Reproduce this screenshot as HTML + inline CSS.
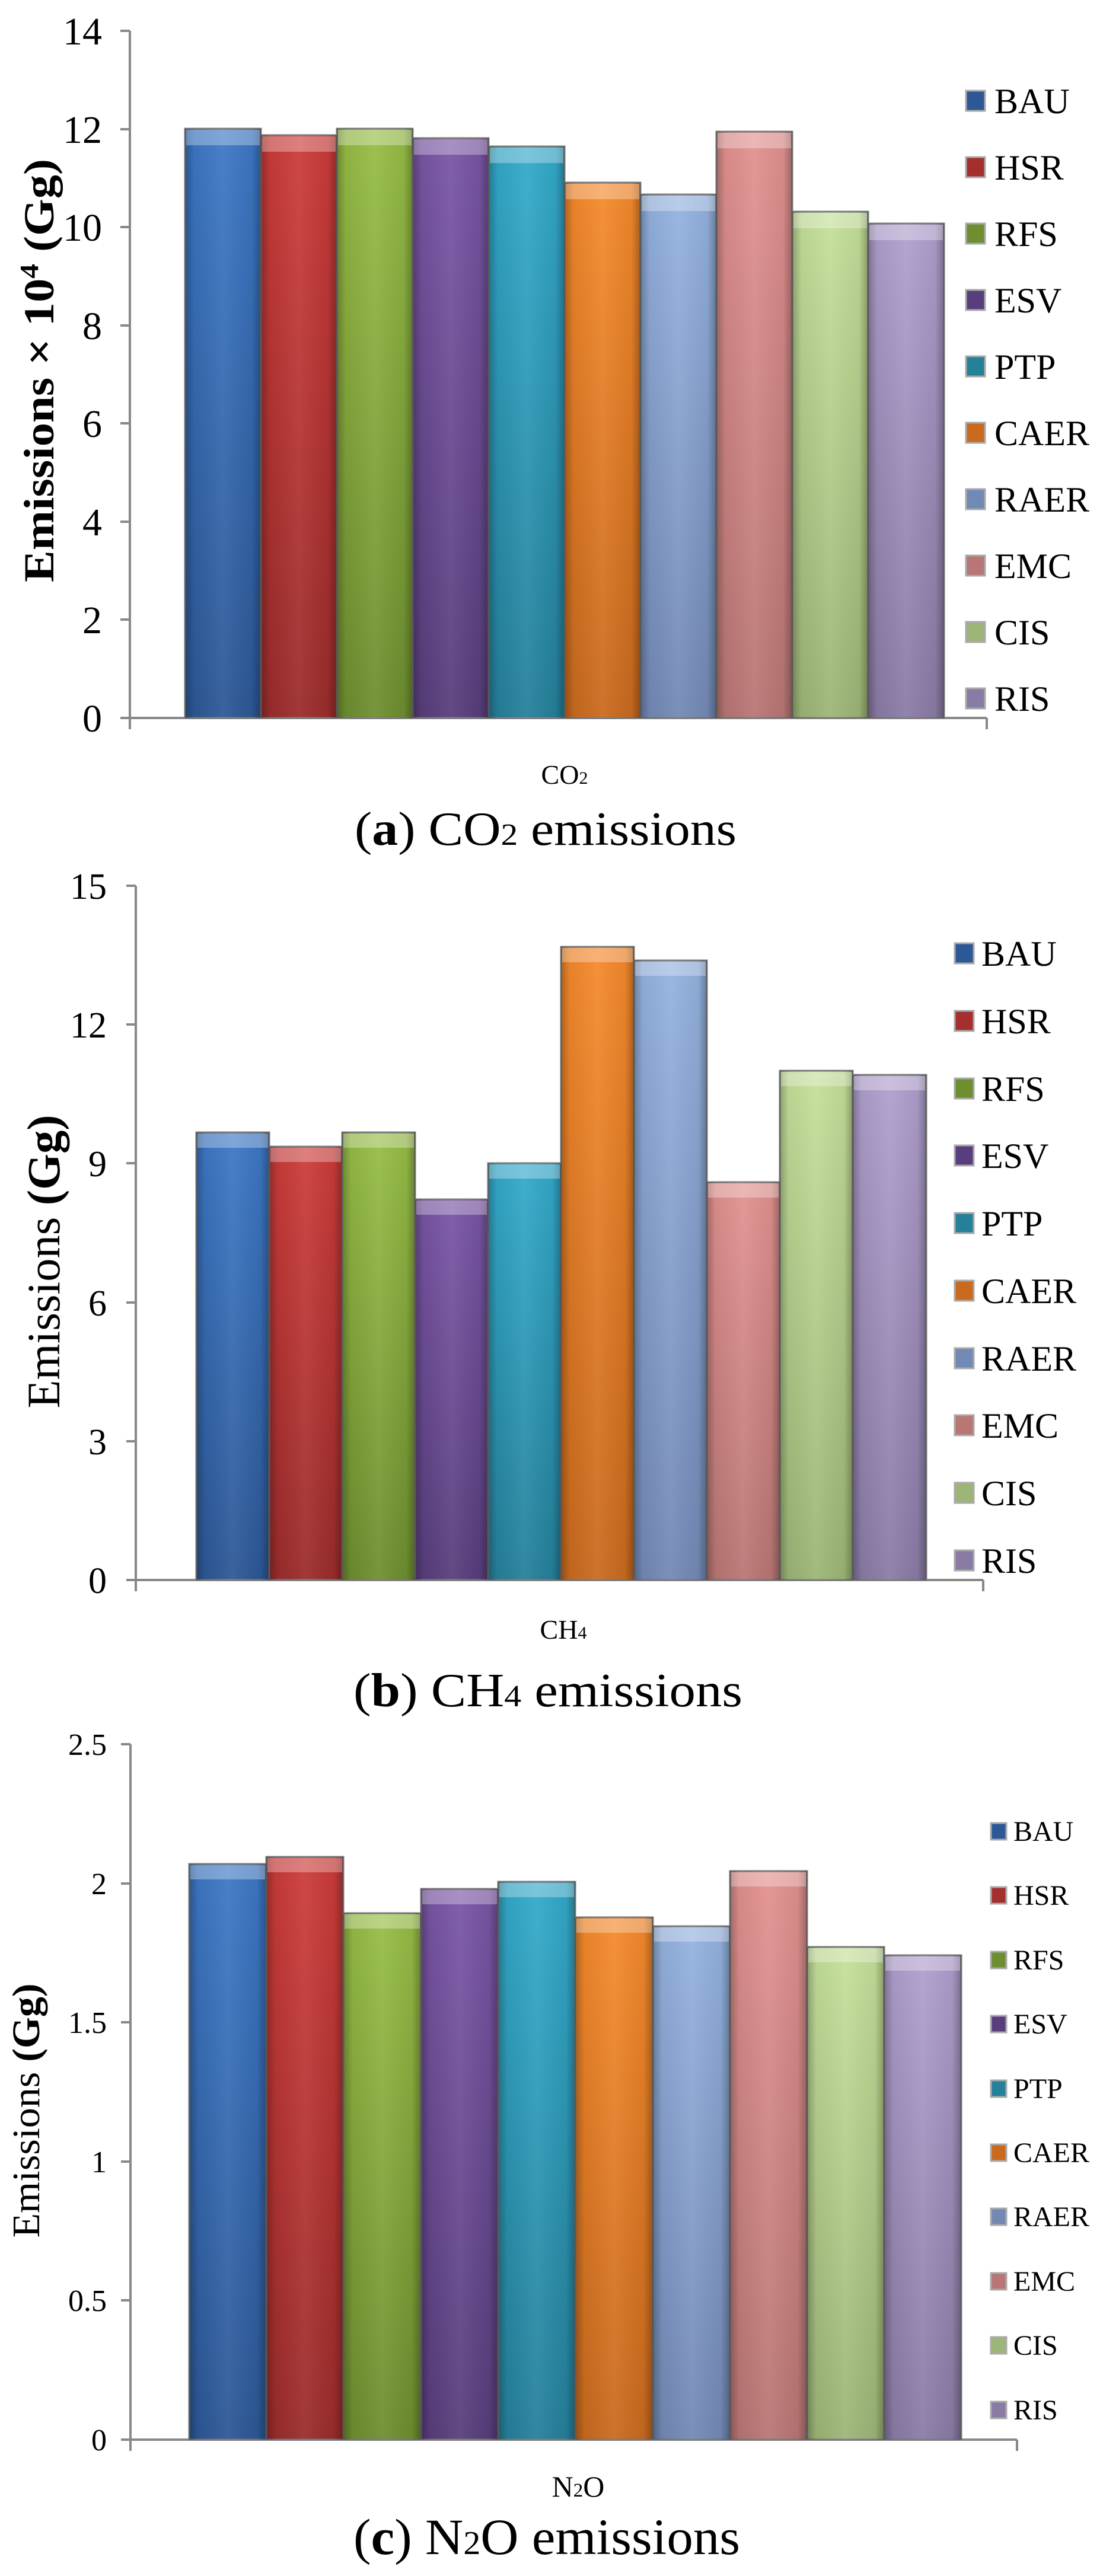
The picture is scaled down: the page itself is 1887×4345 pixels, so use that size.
<!DOCTYPE html>
<html><head><meta charset="utf-8"><style>
html,body{margin:0;padding:0;background:#fff}
svg{display:block}
text{font-family:"Liberation Serif",serif;fill:#000}
</style></head><body>
<svg width="1887" height="4345" viewBox="0 0 1887 4345" xmlns="http://www.w3.org/2000/svg">
<defs>
<linearGradient id="sh" x1="0" y1="0" x2="1" y2="0">
<stop offset="0" stop-color="#000" stop-opacity="0.28"/><stop offset="0.12" stop-color="#000" stop-opacity="0.05"/>
<stop offset="0.5" stop-color="#fff" stop-opacity="0.06"/><stop offset="0.88" stop-color="#000" stop-opacity="0.05"/>
<stop offset="1" stop-color="#000" stop-opacity="0.3"/></linearGradient>
<linearGradient id="g0" x1="0" y1="0" x2="0" y2="1"><stop offset="0" stop-color="#3d78c6"/><stop offset="1" stop-color="#2d5896"/></linearGradient>
<linearGradient id="g1" x1="0" y1="0" x2="0" y2="1"><stop offset="0" stop-color="#cc3c3a"/><stop offset="1" stop-color="#9b2c2c"/></linearGradient>
<linearGradient id="g2" x1="0" y1="0" x2="0" y2="1"><stop offset="0" stop-color="#97bd46"/><stop offset="1" stop-color="#6e8e30"/></linearGradient>
<linearGradient id="g3" x1="0" y1="0" x2="0" y2="1"><stop offset="0" stop-color="#7a56a6"/><stop offset="1" stop-color="#583e7c"/></linearGradient>
<linearGradient id="g4" x1="0" y1="0" x2="0" y2="1"><stop offset="0" stop-color="#33aacb"/><stop offset="1" stop-color="#25809a"/></linearGradient>
<linearGradient id="g5" x1="0" y1="0" x2="0" y2="1"><stop offset="0" stop-color="#f58a2c"/><stop offset="1" stop-color="#c96a1e"/></linearGradient>
<linearGradient id="g6" x1="0" y1="0" x2="0" y2="1"><stop offset="0" stop-color="#94b3e0"/><stop offset="1" stop-color="#7389b5"/></linearGradient>
<linearGradient id="g7" x1="0" y1="0" x2="0" y2="1"><stop offset="0" stop-color="#e29290"/><stop offset="1" stop-color="#b87674"/></linearGradient>
<linearGradient id="g8" x1="0" y1="0" x2="0" y2="1"><stop offset="0" stop-color="#c5e09a"/><stop offset="1" stop-color="#9db577"/></linearGradient>
<linearGradient id="g9" x1="0" y1="0" x2="0" y2="1"><stop offset="0" stop-color="#b09fce"/><stop offset="1" stop-color="#8a7ba5"/></linearGradient>
</defs>

<!-- ===== Panel A ===== -->
<g stroke="#888" stroke-width="4" fill="none">
<line x1="219" y1="52" x2="219" y2="1230"/>
<line x1="203" y1="1211" x2="1664" y2="1211"/>
<line x1="1664" y1="1211" x2="1664" y2="1230"/>
<line x1="203" y1="52" x2="219" y2="52"/><line x1="203" y1="218" x2="219" y2="218"/>
<line x1="203" y1="383" x2="219" y2="383"/><line x1="203" y1="549" x2="219" y2="549"/>
<line x1="203" y1="714" x2="219" y2="714"/><line x1="203" y1="880" x2="219" y2="880"/>
<line x1="203" y1="1045" x2="219" y2="1045"/>
</g>
<g font-size="66" text-anchor="end">
<text x="172" y="75">14</text><text x="172" y="241">12</text><text x="172" y="406">10</text>
<text x="172" y="572">8</text><text x="172" y="737">6</text><text x="172" y="903">4</text>
<text x="172" y="1068">2</text><text x="172" y="1234">0</text>
</g>
<text transform="translate(90,625) rotate(-90)" font-size="72" font-weight="bold" text-anchor="middle" textLength="714" lengthAdjust="spacingAndGlyphs">Emissions × 10<tspan font-size="44" dy="-26">4</tspan><tspan dy="26"> (Gg)</tspan></text>
<g stroke="#7a7a7a" stroke-width="3">
<rect x="312" y="217" width="128" height="994" fill="url(#g0)"/>
<rect x="440" y="228" width="128" height="983" fill="url(#g1)"/>
<rect x="568" y="217" width="128" height="994" fill="url(#g2)"/>
<rect x="696" y="233" width="128" height="978" fill="url(#g3)"/>
<rect x="824" y="247" width="128" height="964" fill="url(#g4)"/>
<rect x="952" y="308" width="128" height="903" fill="url(#g5)"/>
<rect x="1080" y="328" width="128" height="883" fill="url(#g6)"/>
<rect x="1208" y="222" width="128" height="989" fill="url(#g7)"/>
<rect x="1336" y="357" width="128" height="854" fill="url(#g8)"/>
<rect x="1464" y="377" width="128" height="834" fill="url(#g9)"/>
</g>
<g fill="url(#sh)">
<rect x="312" y="217" width="128" height="994"/><rect x="440" y="228" width="128" height="983"/>
<rect x="568" y="217" width="128" height="994"/><rect x="696" y="233" width="128" height="978"/>
<rect x="824" y="247" width="128" height="964"/><rect x="952" y="308" width="128" height="903"/>
<rect x="1080" y="328" width="128" height="883"/><rect x="1208" y="222" width="128" height="989"/>
<rect x="1336" y="357" width="128" height="854"/><rect x="1464" y="377" width="128" height="834"/>
</g>
<g fill="#fff" opacity="0.3">
<rect x="314" y="219" width="124" height="26"/><rect x="442" y="230" width="124" height="26"/>
<rect x="570" y="219" width="124" height="26"/><rect x="698" y="235" width="124" height="26"/>
<rect x="826" y="249" width="124" height="26"/><rect x="954" y="310" width="124" height="26"/>
<rect x="1082" y="330" width="124" height="26"/><rect x="1210" y="224" width="124" height="26"/>
<rect x="1338" y="359" width="124" height="26"/><rect x="1466" y="379" width="124" height="26"/>
</g>
<g stroke="#aaa" stroke-width="3">
<rect x="1629" y="153" width="32" height="34" fill="#2d5896"/>
<rect x="1629" y="265" width="32" height="34" fill="#a52e2e"/>
<rect x="1629" y="377" width="32" height="34" fill="#6e8e30"/>
<rect x="1629" y="489" width="32" height="34" fill="#583e7c"/>
<rect x="1629" y="601" width="32" height="34" fill="#25809a"/>
<rect x="1629" y="713" width="32" height="34" fill="#c96a1e"/>
<rect x="1629" y="825" width="32" height="34" fill="#7389b5"/>
<rect x="1629" y="937" width="32" height="34" fill="#b87674"/>
<rect x="1629" y="1049" width="32" height="34" fill="#9db577"/>
<rect x="1629" y="1161" width="32" height="34" fill="#8a7ba5"/>
</g>
<g font-size="60">
<text x="1677" y="191">BAU</text><text x="1677" y="303">HSR</text><text x="1677" y="415">RFS</text>
<text x="1677" y="527">ESV</text><text x="1677" y="639">PTP</text><text x="1677" y="751">CAER</text>
<text x="1677" y="863">RAER</text><text x="1677" y="975">EMC</text><text x="1677" y="1087">CIS</text>
<text x="1677" y="1199">RIS</text>
</g>
<text x="952" y="1322" font-size="46" text-anchor="middle">CO<tspan font-size="30">2</tspan></text>
<text x="920" y="1425" font-size="80" text-anchor="middle" textLength="644" lengthAdjust="spacingAndGlyphs">(<tspan font-weight="bold">a</tspan>) CO<tspan font-size="52">2</tspan> emissions</text>

<!-- ===== Panel B ===== -->
<g stroke="#888" stroke-width="4" fill="none">
<line x1="229" y1="1494" x2="229" y2="2684"/>
<line x1="213" y1="2665" x2="1658" y2="2665"/>
<line x1="1658" y1="2665" x2="1658" y2="2684"/>
<line x1="213" y1="1494" x2="229" y2="1494"/><line x1="213" y1="1728" x2="229" y2="1728"/>
<line x1="213" y1="1962" x2="229" y2="1962"/><line x1="213" y1="2197" x2="229" y2="2197"/>
<line x1="213" y1="2431" x2="229" y2="2431"/>
</g>
<g font-size="62" text-anchor="end">
<text x="180" y="1516">15</text><text x="180" y="1750">12</text><text x="180" y="1984">9</text>
<text x="180" y="2219">6</text><text x="180" y="2453">3</text><text x="180" y="2687">0</text>
</g>
<text transform="translate(100,2128) rotate(-90)" font-size="78" text-anchor="middle" textLength="495" lengthAdjust="spacingAndGlyphs">Emissions <tspan font-weight="bold">(Gg)</tspan></text>
<g stroke="#7a7a7a" stroke-width="3">
<rect x="331" y="1910" width="123" height="755" fill="url(#g0)"/>
<rect x="454" y="1934" width="123" height="731" fill="url(#g1)"/>
<rect x="577" y="1910" width="123" height="755" fill="url(#g2)"/>
<rect x="700" y="2023" width="123" height="642" fill="url(#g3)"/>
<rect x="823" y="1962" width="123" height="703" fill="url(#g4)"/>
<rect x="946" y="1597" width="123" height="1068" fill="url(#g5)"/>
<rect x="1069" y="1620" width="123" height="1045" fill="url(#g6)"/>
<rect x="1192" y="1994" width="123" height="671" fill="url(#g7)"/>
<rect x="1315" y="1806" width="123" height="859" fill="url(#g8)"/>
<rect x="1438" y="1813" width="124" height="852" fill="url(#g9)"/>
</g>
<g fill="url(#sh)">
<rect x="331" y="1910" width="123" height="755"/><rect x="454" y="1934" width="123" height="731"/>
<rect x="577" y="1910" width="123" height="755"/><rect x="700" y="2023" width="123" height="642"/>
<rect x="823" y="1962" width="123" height="703"/><rect x="946" y="1597" width="123" height="1068"/>
<rect x="1069" y="1620" width="123" height="1045"/><rect x="1192" y="1994" width="123" height="671"/>
<rect x="1315" y="1806" width="123" height="859"/><rect x="1438" y="1813" width="124" height="852"/>
</g>
<g fill="#fff" opacity="0.3">
<rect x="333" y="1912" width="119" height="24"/><rect x="456" y="1936" width="119" height="24"/>
<rect x="579" y="1912" width="119" height="24"/><rect x="702" y="2025" width="119" height="24"/>
<rect x="825" y="1964" width="119" height="24"/><rect x="948" y="1599" width="119" height="24"/>
<rect x="1071" y="1622" width="119" height="24"/><rect x="1194" y="1996" width="119" height="24"/>
<rect x="1317" y="1808" width="119" height="24"/><rect x="1440" y="1815" width="120" height="24"/>
</g>
<g stroke="#aaa" stroke-width="3">
<rect x="1610" y="1591" width="32" height="34" fill="#2d5896"/>
<rect x="1610" y="1705" width="32" height="34" fill="#a52e2e"/>
<rect x="1610" y="1819" width="32" height="34" fill="#6e8e30"/>
<rect x="1610" y="1932" width="32" height="34" fill="#583e7c"/>
<rect x="1610" y="2046" width="32" height="34" fill="#25809a"/>
<rect x="1610" y="2160" width="32" height="34" fill="#c96a1e"/>
<rect x="1610" y="2274" width="32" height="34" fill="#7389b5"/>
<rect x="1610" y="2387" width="32" height="34" fill="#b87674"/>
<rect x="1610" y="2501" width="32" height="34" fill="#9db577"/>
<rect x="1610" y="2615" width="32" height="34" fill="#8a7ba5"/>
</g>
<g font-size="60">
<text x="1655" y="1629">BAU</text><text x="1655" y="1743">HSR</text><text x="1655" y="1857">RFS</text>
<text x="1655" y="1970">ESV</text><text x="1655" y="2084">PTP</text><text x="1655" y="2198">CAER</text>
<text x="1655" y="2312">RAER</text><text x="1655" y="2425">EMC</text><text x="1655" y="2539">CIS</text>
<text x="1655" y="2653">RIS</text>
</g>
<text x="950" y="2764" font-size="46" text-anchor="middle">CH<tspan font-size="30">4</tspan></text>
<text x="924" y="2878" font-size="80" text-anchor="middle" textLength="656" lengthAdjust="spacingAndGlyphs">(<tspan font-weight="bold">b</tspan>) CH<tspan font-size="52">4</tspan> emissions</text>

<!-- ===== Panel C ===== -->
<g stroke="#888" stroke-width="4" fill="none">
<line x1="220" y1="2942" x2="220" y2="4134"/>
<line x1="204" y1="4115" x2="1715" y2="4115"/>
<line x1="1715" y1="4115" x2="1715" y2="4134"/>
<line x1="204" y1="2942" x2="220" y2="2942"/><line x1="204" y1="3177" x2="220" y2="3177"/>
<line x1="204" y1="3411" x2="220" y2="3411"/><line x1="204" y1="3646" x2="220" y2="3646"/>
<line x1="204" y1="3880" x2="220" y2="3880"/>
</g>
<g font-size="52" text-anchor="end">
<text x="180" y="2960">2.5</text><text x="180" y="3195">2</text><text x="180" y="3429">1.5</text>
<text x="180" y="3664">1</text><text x="180" y="3898">0.5</text><text x="180" y="4133">0</text>
</g>
<text transform="translate(66,3560) rotate(-90)" font-size="66" text-anchor="middle" textLength="429" lengthAdjust="spacingAndGlyphs">Emissions <tspan font-weight="bold">(Gg)</tspan></text>
<g stroke="#7a7a7a" stroke-width="3">
<rect x="319" y="3144" width="130" height="971" fill="url(#g0)"/>
<rect x="449" y="3132" width="130" height="983" fill="url(#g1)"/>
<rect x="579" y="3227" width="131" height="888" fill="url(#g2)"/>
<rect x="710" y="3186" width="130" height="929" fill="url(#g3)"/>
<rect x="840" y="3174" width="130" height="941" fill="url(#g4)"/>
<rect x="970" y="3234" width="131" height="881" fill="url(#g5)"/>
<rect x="1101" y="3249" width="130" height="866" fill="url(#g6)"/>
<rect x="1231" y="3156" width="130" height="959" fill="url(#g7)"/>
<rect x="1361" y="3284" width="130" height="831" fill="url(#g8)"/>
<rect x="1491" y="3298" width="130" height="817" fill="url(#g9)"/>
</g>
<g fill="url(#sh)">
<rect x="319" y="3144" width="130" height="971"/><rect x="449" y="3132" width="130" height="983"/>
<rect x="579" y="3227" width="131" height="888"/><rect x="710" y="3186" width="130" height="929"/>
<rect x="840" y="3174" width="130" height="941"/><rect x="970" y="3234" width="131" height="881"/>
<rect x="1101" y="3249" width="130" height="866"/><rect x="1231" y="3156" width="130" height="959"/>
<rect x="1361" y="3284" width="130" height="831"/><rect x="1491" y="3298" width="130" height="817"/>
</g>
<g fill="#fff" opacity="0.3">
<rect x="321" y="3146" width="126" height="24"/><rect x="451" y="3134" width="126" height="24"/>
<rect x="581" y="3229" width="127" height="24"/><rect x="712" y="3188" width="126" height="24"/>
<rect x="842" y="3176" width="126" height="24"/><rect x="972" y="3236" width="127" height="24"/>
<rect x="1103" y="3251" width="126" height="24"/><rect x="1233" y="3158" width="126" height="24"/>
<rect x="1363" y="3286" width="126" height="24"/><rect x="1493" y="3300" width="126" height="24"/>
</g>
<g stroke="#aaa" stroke-width="3">
<rect x="1671" y="3075" width="26" height="28" fill="#2d5896"/>
<rect x="1671" y="3183" width="26" height="28" fill="#a52e2e"/>
<rect x="1671" y="3292" width="26" height="28" fill="#6e8e30"/>
<rect x="1671" y="3400" width="26" height="28" fill="#583e7c"/>
<rect x="1671" y="3509" width="26" height="28" fill="#25809a"/>
<rect x="1671" y="3617" width="26" height="28" fill="#c96a1e"/>
<rect x="1671" y="3725" width="26" height="28" fill="#7389b5"/>
<rect x="1671" y="3834" width="26" height="28" fill="#b87674"/>
<rect x="1671" y="3942" width="26" height="28" fill="#9db577"/>
<rect x="1671" y="4051" width="26" height="28" fill="#8a7ba5"/>
</g>
<g font-size="48">
<text x="1709" y="3105">BAU</text><text x="1709" y="3213">HSR</text><text x="1709" y="3322">RFS</text>
<text x="1709" y="3430">ESV</text><text x="1709" y="3539">PTP</text><text x="1709" y="3647">CAER</text>
<text x="1709" y="3755">RAER</text><text x="1709" y="3864">EMC</text><text x="1709" y="3972">CIS</text>
<text x="1709" y="4081">RIS</text>
</g>
<text x="975" y="4211" font-size="50" text-anchor="middle">N<tspan font-size="33">2</tspan>O</text>
<text x="922" y="4308" font-size="86" text-anchor="middle" textLength="652" lengthAdjust="spacingAndGlyphs">(<tspan font-weight="bold">c</tspan>) N<tspan font-size="56">2</tspan>O emissions</text>
</svg>
</body></html>
